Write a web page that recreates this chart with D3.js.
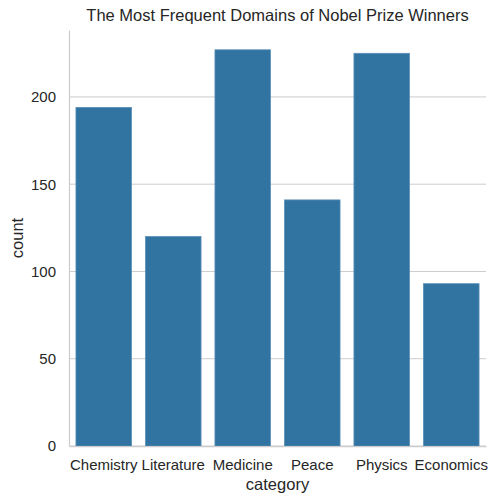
<!DOCTYPE html>
<html>
<head>
<meta charset="utf-8">
<script src="https://cdn.jsdelivr.net/npm/d3@7"></script>
<style>
  body { margin: 0; background: #fff; }
  text { font-family: "Liberation Sans", Arial, sans-serif; fill: #262626; }
</style>
</head>
<body>
<div id="chart"></div>
<script>
const categories = ['Chemistry', 'Literature', 'Medicine', 'Peace', 'Physics', 'Economics'];
const counts = [194, 120, 227, 141, 225, 93];
const yTicks = [0, 50, 100, 150, 200];

const margin = {top: 30, right: 18, bottom: 58, left: 69};
const width = 504 - margin.left - margin.right;
const height = 504 - margin.top - margin.bottom;
const barColor = '#3274a1';

const svg = d3.select('#chart')
    .append('svg')
    .attr('width', 504)
    .attr('height', 504)
    .append('g')
    .attr('transform', 'translate(' + margin.left + ',' + margin.top + ')');

const xScale = d3.scaleBand().domain(categories).range([0, width]).paddingInner(0.2).paddingOuter(0.1);
const yScale = d3.scaleLinear().domain([0, d3.max(counts) * 1.05]).range([height, 0]);

// grid lines
svg.append('g')
    .selectAll('line')
    .data(yTicks)
    .join('line')
    .attr('x1', 0)
    .attr('x2', width)
    .attr('y1', d => yScale(d))
    .attr('y2', d => yScale(d))
    .attr('stroke', '#cccccc')
    .attr('stroke-width', 1);

// bars
svg.append('g')
    .selectAll('rect')
    .data(categories)
    .join('rect')
    .attr('x', d => xScale(d))
    .attr('y', (d, i) => yScale(counts[i]))
    .attr('width', xScale.bandwidth())
    .attr('height', (d, i) => height - yScale(counts[i]))
    .attr('fill', barColor)
    .attr('stroke', '#5b8fb8')
    .attr('stroke-width', 0.8);

// axes
const yAxis = d3.axisLeft(yScale).tickValues(yTicks).tickSize(0).tickPadding(13);
const yG = svg.append('g').call(yAxis);
yG.select('.domain').attr('stroke', '#cccccc').attr('stroke-width', 1.25);
yG.selectAll('text').style('font-size', '15px');

const xAxis = d3.axisBottom(xScale).tickSize(0).tickPadding(13);
const xG = svg.append('g').attr('transform', 'translate(0,' + height + ')').call(xAxis);
xG.select('.domain').attr('stroke', '#cccccc').attr('stroke-width', 1.25);
xG.selectAll('text').style('font-size', '15px');

// labels
svg.append('text')
    .attr('x', width / 2)
    .attr('y', height + 44)
    .attr('text-anchor', 'middle')
    .style('font-size', '16.5px')
    .text('category');

svg.append('text')
    .attr('transform', 'rotate(-90)')
    .attr('x', -height / 2)
    .attr('y', -46)
    .attr('text-anchor', 'middle')
    .style('font-size', '16.5px')
    .text('count');

svg.append('text')
    .attr('x', width / 2)
    .attr('y', -9)
    .attr('text-anchor', 'middle')
    .style('font-size', '16.5px')
    .text('The Most Frequent Domains of Nobel Prize Winners');
</script>
</body>
</html>
